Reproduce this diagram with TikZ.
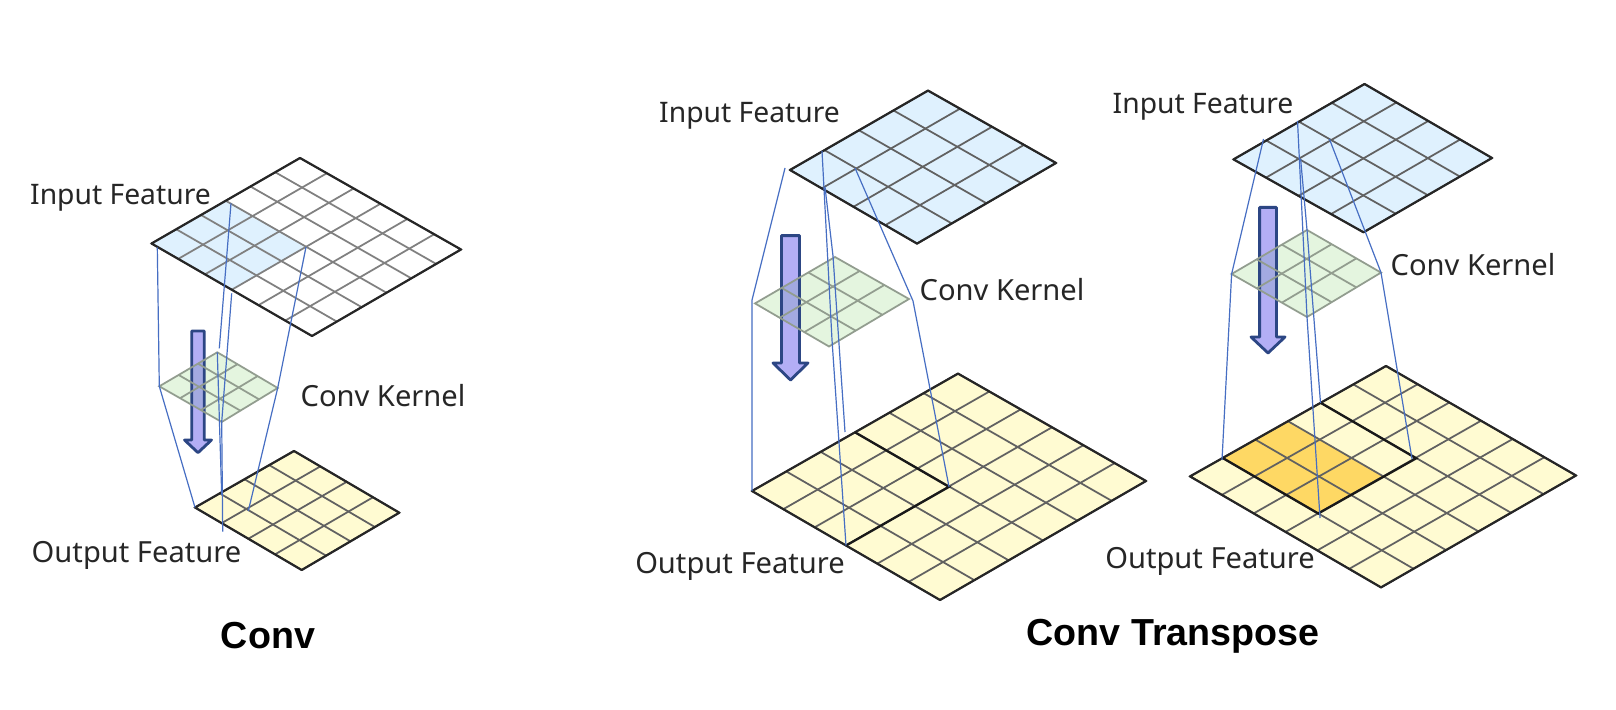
\documentclass[tikz,border=0pt]{standalone}
\usepackage{fontspec}
\setmainfont{Noto Sans}
\newfontfamily\titlefont{Liberation Sans}
\usetikzlibrary{calc}
\definecolor{plateblue}{RGB}{223,241,254}
\definecolor{plategreen}{RGB}{228,245,223}
\definecolor{plateyellow}{RGB}{255,251,210}
\definecolor{plateorange}{RGB}{254,216,100}
\definecolor{linkblue}{RGB}{70,110,195}
\definecolor{arrowfill}{RGB}{179,174,245}
\definecolor{arrowmixfill}{RGB}{163,170,225}
\definecolor{arrowline}{RGB}{44,70,132}
\tikzset{
  outer/.style={draw=black!85,line width=0.62pt,line join=round},
  inner/.style={draw=black!62,line width=0.5pt},
  faint/.style={draw=black!50,line width=0.5pt},
  kernelline/.style={draw=black!36!plategreen,line width=0.5pt},
  heavy/.style={draw=black!90,line width=0.66pt},
  link/.style={draw=linkblue,line width=0.34pt},
  lab/.style={inner sep=0pt,font=\fontsize{8.2}{10}\selectfont,text=black!85},
  title/.style={inner sep=0pt,font=\titlefont\fontsize{10.7}{13}\selectfont\bfseries},
  arrowbox/.style={fill=arrowfill,draw=arrowline,line width=0.8pt,line join=round},
  arrowmix/.style={fill=arrowmixfill,draw=arrowline,line width=0.8pt,line join=round},
}
% name, L, T, R, B, fill
\newcommand{\gridplate}[6]{
  \coordinate (#1L) at #2;
  \coordinate (#1T) at #3;
  \coordinate (#1R) at #4;
  \coordinate (#1B) at #5;
  \fill[#6] (#1L)--(#1T)--(#1R)--(#1B)--cycle;
}
\newcommand{\gridlines}[3]{
  \pgfmathtruncatemacro{\last}{#2-1}
  \foreach \i in {1,...,\last}{
    \draw[#3] ($(#1L)!\i/#2!(#1T)$)--($(#1B)!\i/#2!(#1R)$);
    \draw[#3] ($(#1L)!\i/#2!(#1B)$)--($(#1T)!\i/#2!(#1R)$);
  }
  \draw[#3] (#1L)--(#1T)--(#1R)--(#1B)--cycle;
}
% style, x centre, half shaft, half head, top, neck, tip
\newcommand{\downarrowbox}[7]{
  \draw[#1]
  ({#2-#3},#5)--({#2+#3},#5)--({#2+#3},#6)--({#2+#4},#6)--(#2,#7)--({#2-#4},#6)--({#2-#3},#6)--cycle;
}
% part of the arrow that shows through a kernel
\newcommand{\seenarrow}[7]{
  \begin{scope}
    \clip (#1L)--(#1T)--(#1R)--(#1B)--cycle;
    \downarrowbox{arrowmix}{#2}{#3}{#4}{#5}{#6}{#7}
  \end{scope}
}
\begin{document}
\begin{tikzpicture}[x=0.01cm,y=-0.01cm]
  \useasboundingbox (0,0) rectangle (1616,710);
  \fill[white] (0,0) rectangle (1616,710);

  %%% Conv
  \gridplate{a}{(151.5,243.5)}{(300,158)}{(461,249.5)}{(312,336)}{white}
  \coordinate (a7) at ($(aL)!0.5!(aT)+(aL)!0.5!(aB)-(aL)$);
  \fill[plateblue] (aL)--($(aL)!0.5!(aT)$)--(a7)--($(aL)!0.5!(aB)$)--cycle;
  \gridlines{a}{6}{faint}
  \draw[outer] (aL)--(aT)--(aR)--(aB)--cycle;
  \downarrowbox{arrowbox}{198}{6.2}{13.5}{331}{440}{452.7}
  \gridplate{b}{(159.3,386.3)}{(217.3,352.3)}{(277.7,388)}{(221.7,422)}{plategreen}
  \seenarrow{b}{198}{6.2}{13.5}{331}{440}{452.7}
  \gridlines{b}{3}{kernelline}
  \gridplate{c}{(195,507.5)}{(294,451)}{(399.3,512.7)}{(301.7,570)}{plateyellow}
  \gridlines{c}{4}{inner}
  \draw[outer] (cL)--(cT)--(cR)--(cB)--cycle;
  \coordinate (a1) at (157.3,247.3);
  \coordinate (a2) at (231,203.3);
  \coordinate (a3) at (219.3,348.3);
  \coordinate (a4) at (221.7,495);
  \coordinate (a5) at (231.7,293.3);
  \coordinate (a6) at (222.7,531.7);
  \coordinate (a8) at (248.3,511);
  \draw[link] (a1)--(bL)--(cL);
  \draw[link] (a2)--(a3);
  \draw[link] (bT)--(a4);
  \draw[link] (a5)--(bB)--(a6);
  \draw[link] (a7)--(bR)--(a8);
  \node[lab,scale=0.98] (convin) at (120.5,198) {Input Feature};
  \node[lab,scale=1.01] (convk) at (383,396) {Conv Kernel};
  \node[lab,scale=1.01] (convout) at (136.5,555) {Output Feature};
  \node[title] (convt) at (268,636) {Conv};

  %%% Conv Transpose, first
  \gridplate{d}{(790,170)}{(928,90.6)}{(1056,163)}{(917,243.6)}{plateblue}
  \gridlines{d}{4}{inner}
  \draw[outer] (dL)--(dT)--(dR)--(dB)--cycle;
  \downarrowbox{arrowbox}{790.5}{9}{17.5}{235.6}{363}{380}
  \gridplate{e}{(755,303.4)}{(835,257)}{(909,299)}{(829,346.5)}{plategreen}
  \seenarrow{e}{790.5}{9}{17.5}{235.6}{363}{380}
  \gridlines{e}{3}{kernelline}
  \gridplate{f}{(752,491)}{(958,373.6)}{(1146,481)}{(940,600)}{plateyellow}
  \gridlines{f}{6}{inner}
  \draw[outer] (fL)--(fT)--(fR)--(fB)--cycle;
  \coordinate (f1) at ($(fL)!0.5!(fT)$);
  \coordinate (f3) at ($(fL)!0.5!(fB)$);
  \coordinate (f2) at ($(f1)+(f3)-(fL)$);
  \draw[heavy] (f1)--(f2)--(f3);
  \coordinate (d1) at (785,168);
  \coordinate (d2) at (752,300);
  \coordinate (d3) at (822,151);
  \coordinate (d4) at (832,340);
  \coordinate (d5) at (825,187);
  \coordinate (d6) at (833,256);
  \coordinate (d7) at (845,432);
  \coordinate (d8) at (855,168);
  \coordinate (d9) at (913,301);
  \draw[link] (d1)--(d2)--(fL);
  \draw[link] (d3)--(d4)--(f3);
  \draw[link] (d5)--(d6)--(d7);
  \draw[link] (d8)--(d9)--(f2);
  \node[lab,scale=0.98] (trin) at (749.5,116) {Input Feature};
  \node[lab,scale=1.01] (trk) at (1002,290) {Conv Kernel};
  \node[lab,scale=1.01] (trout) at (740,566) {Output Feature};

  %%% Conv Transpose, second
  \gridplate{g}{(1233.5,159.4)}{(1364.5,84)}{(1492,158)}{(1363.5,232.3)}{plateblue}
  \gridlines{g}{4}{inner}
  \draw[outer] (gL)--(gT)--(gR)--(gB)--cycle;
  \downarrowbox{arrowbox}{1268}{8.4}{17}{207.4}{337}{353}
  \gridplate{h}{(1231.6,274)}{(1307,230)}{(1381,272.6)}{(1307,317)}{plategreen}
  \seenarrow{h}{1268}{8.4}{17}{207.4}{337}{353}
  \gridlines{h}{3}{kernelline}
  \gridplate{k}{(1190,476.4)}{(1386,366)}{(1576,475.5)}{(1381,587.4)}{plateyellow}
  \coordinate (k0) at ($(kL)!0.5!(kB)$);
  \coordinate (k1) at ($(kL)!1/6!(kT)$);
  \coordinate (k2) at ($(kL)!0.5!(kT)$);
  \coordinate (k3) at ($(k2)+(k0)-(kL)$);
  \coordinate (k4) at ($(k1)+(k0)-(kL)$);
  \fill[plateorange] (k1)--(k2)--(k3)--(k4)--cycle;
  \gridlines{k}{6}{inner}
  \draw[outer] (kL)--(kT)--(kR)--(kB)--cycle;
  \coordinate (k5) at ($(kL)!4/6!(kT)$);
  \coordinate (k6) at ($(k5)+(k0)-(kL)$);
  \draw[heavy] (k5)--(k6)--(k4)--(k1);
  \coordinate (g1) at (1263.5,139);
  \coordinate (g3) at (1222,460);
  \coordinate (g4) at (1297.5,121);
  \coordinate (g6) at (1320,518);
  \coordinate (g7) at (1300.6,159);
  \coordinate (g9) at (1320.5,403);
  \coordinate (g10) at (1329.4,139);
  \coordinate (g12) at (1412,459);
  \draw[link] (g1)--(hL)--(g3);
  \draw[link] (g4)--(hB)--(g6);
  \draw[link] (g7)--(hT)--(g9);
  \draw[link] (g10)--(hR)--(g12);
  \node[lab,scale=0.98] (tsin) at (1203,107) {Input Feature};
  \node[lab,scale=1.01] (tsk) at (1473,265) {Conv Kernel};
  \node[lab,scale=1.01] (tsout) at (1210,561) {Output Feature};
  \node[title] (trt) at (1173,636) {Conv Transpose};
\end{tikzpicture}
\end{document}
